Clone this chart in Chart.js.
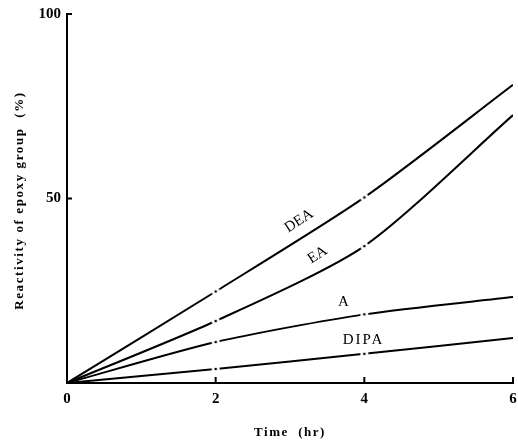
<!DOCTYPE html>
<html><head><meta charset="utf-8">
<script src="https://cdn.jsdelivr.net/npm/chart.js@4/dist/chart.umd.min.js"></script>
<style>html,body{margin:0;padding:0;background:#fff}#wrap{width:518px;height:444px}</style>
</head><body><div id="wrap"><canvas id="c" width="518" height="444"></canvas></div>
<script>
const times = [0, 2, 4, 6];
const DEA  = [0, 24.8, 50.3, 80.8];
const EA   = [0, 16.8, 37.1, 72.6];
const A    = [0, 11.1, 18.6, 23.3];
const DIPA = [0, 3.8, 7.9, 12.2];
const xTicks = [0, 2, 4, 6];
const yTicks = [50, 100];
const seriesNames = ['DEA', 'EA', 'A', 'DIPA'];
const seriesValues = [DEA, EA, A, DIPA];
const xTitle = 'Time  (hr)';
const yTitle = 'Reactivity of epoxy group  (%)';
// label anchors in data coordinates and rotation
const labelX = [3.12, 3.37, 3.72, 3.99];
const labelY = [43.9, 34.7, 21.9, 11.6];
const labelRot = [-33, -33, 0, 0];

const mk = document.createElement('canvas');
mk.width = 10; mk.height = 10;
const mctx = mk.getContext('2d');
mctx.fillStyle = '#fff'; mctx.beginPath(); mctx.arc(5,5,4,0,Math.PI*2); mctx.fill();
mctx.fillStyle = '#000'; mctx.beginPath(); mctx.arc(5,5,1.3,0,Math.PI*2); mctx.fill();

const datasets = seriesNames.map((n, i) => ({
  label: n,
  data: times.map((t, j) => ({x: t, y: seriesValues[i][j]})),
  borderColor: '#000', borderWidth: 2,
  pointStyle: times.map((t) => (t === 2 || t === 4) ? mk : false),
  pointRadius: times.map((t) => (t === 2 || t === 4) ? 5 : 0),
  tension: 0.25,
  fill: false
}));

const serif = "'Liberation Serif', 'DejaVu Serif', serif";

const labelPlugin = {
  id: 'lbl',
  afterDatasetsDraw(chart) {
    const {ctx, scales: {x, y}} = chart;
    ctx.save();
    ctx.fillStyle = '#000';
    ctx.textAlign = 'center'; ctx.textBaseline = 'middle';
    seriesNames.forEach((n, i) => {
      ctx.save();
      ctx.font = '15px ' + serif;
      ctx.letterSpacing = n === 'DIPA' ? '2px' : '0px';
      ctx.translate(x.getPixelForValue(labelX[i]), y.getPixelForValue(labelY[i]));
      ctx.rotate(labelRot[i] * Math.PI / 180);
      ctx.fillText(n, 0, 0);
      ctx.restore();
    });
    // inward ticks
    ctx.strokeStyle = '#000'; ctx.lineWidth = 2;
    xTicks.forEach(v => {
      if (v === 0) return;
      const px = x.getPixelForValue(v);
      ctx.beginPath(); ctx.moveTo(px, y.bottom); ctx.lineTo(px, y.bottom - 6); ctx.stroke();
    });
    yTicks.forEach(v => {
      const py = y.getPixelForValue(v);
      ctx.beginPath(); ctx.moveTo(x.left, py); ctx.lineTo(x.left + 5, py); ctx.stroke();
    });
    // axis titles
    ctx.font = 'bold 13px ' + serif;
    ctx.letterSpacing = '1.5px';
    ctx.fillText(xTitle, (x.left + x.right) / 2, 433);
    ctx.save();
    ctx.translate(20, (y.top + y.bottom) / 2 + 2);
    ctx.rotate(-Math.PI / 2);
    ctx.font = 'bold 13px ' + serif;
    ctx.letterSpacing = '1.6px';
    ctx.fillText(yTitle, 0, 0);
    ctx.restore();
    ctx.restore();
  }
};

new Chart(document.getElementById('c'), {
  type: 'line',
  data: { datasets },
  plugins: [labelPlugin],
  options: {
    responsive: false, animation: false,
    layout: { padding: { top: 14, right: 5, left: 0, bottom: 0 } },
    plugins: { legend: { display: false }, tooltip: { enabled: false } },
    scales: {
      x: {
        type: 'linear', min: 0, max: 6,
        afterBuildTicks: s => { s.ticks = xTicks.map(v => ({value: v})); },
        afterFit: s => { s.height = 61; s.paddingRight = 0; s.paddingLeft = 0; },
        grid: { display: false, drawTicks: false },
        border: { display: true, color: '#000', width: 2 },
        ticks: { color: '#000', padding: 7, font: { family: serif, size: 15, weight: 'bold' } }
      },
      y: {
        type: 'linear', min: 0, max: 100,
        afterBuildTicks: s => { s.ticks = yTicks.map(v => ({value: v})); },
        afterFit: s => { s.width = 67; s.paddingTop = 0; s.paddingBottom = 0; },
        grid: { display: false, drawTicks: false },
        border: { display: true, color: '#000', width: 2 },
        ticks: { color: '#000', padding: 6, font: { family: serif, size: 15, weight: 'bold' } }
      }
    }
  }
});
</script></body></html>
